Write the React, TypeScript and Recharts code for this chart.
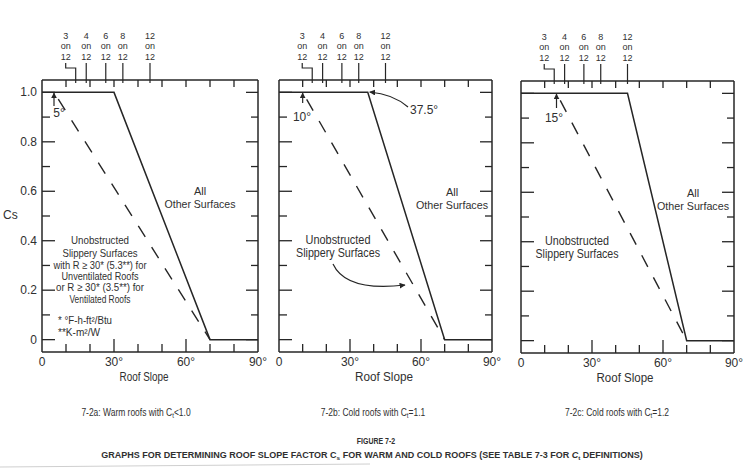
import React from "react";
import { LineChart, Line, XAxis, YAxis } from "recharts";

const SANS = "'Liberation Sans', Arial, Helvetica, sans-serif";
const NARROW = "'Liberation Sans Narrow', 'Liberation Sans', Arial, sans-serif";
const INK = "#262626";
const TXT = "#303030";

// axis ticks
const csTicks = [0, 0.1, 0.2, 0.3, 0.4, 0.5, 0.6, 0.7, 0.8, 0.9, 1.0];
const slopeTicks = [0, 10, 20, 30, 40, 50, 60, 70, 80, 90];
const slopeLabels = [0, 30, 60, 90];
const topMinorTicks = [10, 20, 30, 40, 50, 60, 70, 80];
// roof pitch "x on 12" marks along the top edge (degrees)
const pitchRise = [3, 4, 6, 8, 12];
const pitchAngle = [14.04, 18.43, 26.57, 33.69, 45];
const topTicks = [...topMinorTicks, ...pitchAngle].sort((a, b) => a - b);

// curves: roof slope (deg) -> Cs
const solidCs = [1, 1, 0, 0];
const dashCs = [1, 0];
const warmSolidSlope = [0, 30, 70, 90];
const warmDashSlope = [5, 70];
const cold11SolidSlope = [0, 37.5, 70, 90];
const cold11DashSlope = [10, 70];
const cold12SolidSlope = [0, 45, 70, 90];
const cold12DashSlope = [15, 70];

const rows = (slopes: number[], cs: number[]) => slopes.map((s, i) => ({ slope: s, cs: cs[i] }));

type Geo = { left: number; right: number; top: number; bottom: number };
const geoA: Geo = { left: 42, right: 258, top: 80, bottom: 352 };
const geoB: Geo = { left: 279, right: 492, top: 80, bottom: 352 };
const geoC: Geo = { left: 521, right: 734, top: 81, bottom: 353 };

// pixel helper for the annotation layer
const sx = (g: Geo, deg: number) => g.left + (deg / 90) * (g.right - g.left);

function BottomTick(props: any) {
  const { x, y, payload } = props;
  const v = payload.value;
  const edge = v === 0 || v === 90;
  const len = v % 30 === 0 ? 13 : 8;
  return (
    <g>
      {!edge && <line x1={x} y1={y} x2={x} y2={y - len} stroke={INK} strokeWidth={1.3} />}
      {slopeLabels.includes(v) && (
        <text x={x} y={y + 14} textAnchor="middle" fontSize={12} fontFamily={SANS} fill={TXT}>
          {v === 0 ? "0" : `${v}°`}
        </text>
      )}
    </g>
  );
}

function TopTick(props: any) {
  const { x, y, payload } = props;
  const i = pitchAngle.indexOf(payload.value);
  if (i < 0) return <line x1={x} y1={y} x2={x} y2={y + 7} stroke={INK} strokeWidth={1.3} />;
  const lx = i === 0 ? x - 10 : x;
  const t = { textAnchor: "middle" as const, fontSize: 9, fontFamily: SANS, fill: TXT };
  return (
    <g>
      {i === 0 ? (
        <polyline
          points={`${lx},${y - 17} ${lx},${y - 12} ${x},${y - 12} ${x},${y + 3}`}
          fill="none"
          stroke={INK}
          strokeWidth={1.2}
        />
      ) : (
        <line x1={x} y1={y - 17} x2={x} y2={y + 3} stroke={INK} strokeWidth={1.2} />
      )}
      <text x={lx} y={y - 41} {...t}>{pitchRise[i]}</text>
      <text x={lx} y={y - 31} {...t}>on</text>
      <text x={lx} y={y - 20} {...t}>12</text>
    </g>
  );
}

function LeftTick(props: any) {
  const { x, y, payload, labels } = props;
  const v = payload.value;
  const major = Math.round(v * 10) % 2 === 0;
  return (
    <g>
      <line x1={x} y1={y} x2={x + (major ? 13 : 8)} y2={y} stroke={INK} strokeWidth={1.3} />
      {labels && major && (
        <text x={x - 5} y={y + 4} textAnchor="end" fontSize={12} fontFamily={SANS} fill={TXT}>
          {v === 0 ? "0" : v.toFixed(1)}
        </text>
      )}
    </g>
  );
}

function RightTick(props: any) {
  const { x, y, payload } = props;
  const major = Math.round(payload.value * 10) % 2 === 0;
  return <line x1={x} y1={y} x2={x - (major ? 12 : 7)} y2={y} stroke={INK} strokeWidth={1.3} />;
}

const axisLine = { stroke: INK, strokeWidth: 1.5 };

function Panel({ g, solid, dash, yLabels }: { g: Geo; solid: any[]; dash: any[]; yLabels?: boolean }) {
  const W = g.right - g.left + 59;
  const H = 400;
  return (
    <div style={{ position: "absolute", left: g.left - 42, top: g.top - 80, width: W, height: H }}>
      <LineChart width={W} height={H} margin={{ top: 20, right: 7, bottom: 18, left: 2 }}>
        <XAxis
          xAxisId="b"
          type="number"
          dataKey="slope"
          domain={[0, 90]}
          ticks={slopeTicks}
          interval={0}
          height={30}
          tickSize={0}
          tickMargin={0}
          tickLine={false}
          axisLine={axisLine}
          tick={<BottomTick />}
        />
        <XAxis
          xAxisId="t"
          orientation="top"
          type="number"
          dataKey="slope"
          domain={[0, 90]}
          ticks={topTicks}
          interval={0}
          height={60}
          tickSize={0}
          tickMargin={0}
          tickLine={false}
          axisLine={axisLine}
          tick={<TopTick />}
        />
        <YAxis
          yAxisId="l"
          type="number"
          domain={[-0.05, 1.05]}
          ticks={csTicks}
          interval={0}
          width={40}
          tickSize={0}
          tickMargin={0}
          tickLine={false}
          axisLine={axisLine}
          tick={<LeftTick labels={yLabels} />}
        />
        <YAxis
          yAxisId="r"
          orientation="right"
          type="number"
          domain={[-0.05, 1.05]}
          ticks={csTicks}
          interval={0}
          width={10}
          tickSize={0}
          tickMargin={0}
          tickLine={false}
          axisLine={axisLine}
          tick={<RightTick />}
        />
        {/* carrier so the top (pitch) axis has a series of its own */}
        <Line
          xAxisId="t"
          yAxisId="r"
          data={solid}
          dataKey="cs"
          stroke="none"
          dot={false}
          activeDot={false}
          legendType="none"
          isAnimationActive={false}
        />
        <Line
          xAxisId="b"
          yAxisId="l"
          data={solid}
          dataKey="cs"
          type="linear"
          stroke={INK}
          strokeWidth={1.5}
          dot={false}
          isAnimationActive={false}
        />
        <Line
          xAxisId="b"
          yAxisId="l"
          data={dash}
          dataKey="cs"
          type="linear"
          stroke={INK}
          strokeWidth={1.4}
          strokeDasharray="13 12"
          strokeDashoffset={-8}
          dot={false}
          isAnimationActive={false}
        />
      </LineChart>
    </div>
  );
}

function T({ x, y, children, size = 12, anchor = "middle", w, font = NARROW, weight }: any) {
  return (
    <text
      x={x}
      y={y}
      fontSize={size}
      fontFamily={font}
      fontWeight={weight}
      textAnchor={anchor}
      fill={TXT}
      textLength={w}
      lengthAdjust={w ? "spacingAndGlyphs" : undefined}
    >
      {children}
    </text>
  );
}

// horizontally condensed text (keeps tspans flowing naturally)
function CT({ x, y, children, size = 10, k = 0.72, anchor = "middle", weight }: any) {
  return (
    <g transform={`translate(${x},${y}) scale(${k},1)`}>
      <text x={0} y={0} fontSize={size} fontFamily={SANS} fontWeight={weight} textAnchor={anchor} fill={TXT}>
        {children}
      </text>
    </g>
  );
}

function Annotations() {
  const stroke = { stroke: INK, strokeWidth: 1.2, fill: "none" };
  return (
    <svg
      width={753}
      height={473}
      style={{ position: "absolute", left: 0, top: 0, pointerEvents: "none" }}
    >
      <defs>
        <marker id="ah" viewBox="0 0 10 10" refX="9" refY="5" markerWidth="5" markerHeight="5" orient="auto">
          <path d="M0,0 L10,5 L0,10 z" fill={INK} />
        </marker>
      </defs>

      {/* panel a */}
      <T x={3} y={219} anchor="start" font={SANS}>Cs</T>
      <line x1={sx(geoA, 5)} y1={106} x2={sx(geoA, 5)} y2={93} {...stroke} markerEnd="url(#ah)" />
      <T x={59} y={117} font={SANS}>5°</T>
      <T x={200} y={195} font={SANS} size={11}>All</T>
      <T x={200} y={208} font={SANS} size={11} w={71}>Other Surfaces</T>
      <T x={100} y={244} size={11} w={58}>Unobstructed</T>
      <T x={100} y={257} size={11} w={75}>Slippery Surfaces</T>
      <T x={100} y={269} size={11} w={93}>with R ≥ 30* (5.3**) for</T>
      <T x={100} y={280} size={11} w={77}>Unventilated Roofs</T>
      <T x={100} y={291} size={11} w={88}>or R ≥ 30* (3.5**) for</T>
      <T x={100} y={303} size={11} w={61}>Ventilated Roofs</T>
      <T x={58} y={324} size={10} anchor="start" w={54}>* °F-h-ft²/Btu</T>
      <T x={58} y={336} size={10} anchor="start" w={42}>**K-m²/W</T>
      <T x={144} y={381} size={12} w={49}>Roof Slope</T>

      {/* panel b */}
      <line x1={sx(geoB, 10)} y1={103} x2={sx(geoB, 10)} y2={93} {...stroke} markerEnd="url(#ah)" />
      <T x={302} y={121} font={SANS}>10°</T>
      <path d={`M408,107 Q393,94 ${sx(geoB, 37.5) + 2},92`} {...stroke} markerEnd="url(#ah)" />
      <T x={410} y={114} font={SANS} anchor="start">37.5°</T>
      <T x={452} y={196} font={SANS} size={11}>All</T>
      <T x={452} y={209} font={SANS} size={11} w={72}>Other Surfaces</T>
      <T x={338} y={244} size={12} w={65}>Unobstructed</T>
      <T x={338} y={257} size={12} w={84}>Slippery Surfaces</T>
      <path d="M333,264 Q346,292 405,285" {...stroke} markerEnd="url(#ah)" />
      <T x={384} y={381} size={12} w={58}>Roof Slope</T>

      {/* panel c */}
      <line x1={sx(geoC, 15)} y1={108} x2={sx(geoC, 15)} y2={94} {...stroke} markerEnd="url(#ah)" />
      <T x={554} y={122} font={SANS}>15°</T>
      <T x={693} y={197} font={SANS} size={11}>All</T>
      <T x={693} y={210} font={SANS} size={11} w={72}>Other Surfaces</T>
      <T x={577} y={245} size={12} w={64}>Unobstructed</T>
      <T x={577} y={258} size={12} w={83}>Slippery Surfaces</T>
      <T x={625} y={382} size={12} w={57}>Roof Slope</T>

      {/* captions */}
      <CT x={136} y={416} size={11} k={0.77}>
        7-2a: Warm roofs with C<tspan fontSize={8} dy={1.5}>t</tspan><tspan dy={-1.5}>&lt;1.0</tspan>
      </CT>
      <CT x={373} y={416} size={11} k={0.77}>
        7-2b: Cold roofs with C<tspan fontSize={8} dy={1.5}>t</tspan><tspan dy={-1.5}>=1.1</tspan>
      </CT>
      <CT x={617} y={416} size={11} k={0.77}>
        7-2c: Cold roofs with C<tspan fontSize={8} dy={1.5}>t</tspan><tspan dy={-1.5}>=1.2</tspan>
      </CT>
      <CT x={376} y={444} size={8.5} k={0.82} weight="bold">FIGURE 7-2</CT>
      <CT x={372} y={458} size={8.5} k={1.06} weight="bold">
        GRAPHS FOR DETERMINING ROOF SLOPE FACTOR C<tspan fontSize={6} dy={1.5}>s</tspan>
        <tspan dy={-1.5}> FOR WARM AND COLD ROOFS (SEE TABLE 7-3 FOR </tspan>
        <tspan fontStyle="italic">C</tspan>
        <tspan fontSize={6} dy={1.5}>t</tspan>
        <tspan dy={-1.5}> DEFINITIONS)</tspan>
      </CT>
      <line x1={0} y1={467} x2={370} y2={464} stroke="#cfcfcf" strokeWidth={1} />
    </svg>
  );
}

export default function App() {
  return (
    <div style={{ position: "absolute", left: 0, top: 0, width: 753, height: 473, background: "#fff", overflow: "hidden" }}>
      <Panel g={geoA} solid={rows(warmSolidSlope, solidCs)} dash={rows(warmDashSlope, dashCs)} yLabels />
      <Panel g={geoB} solid={rows(cold11SolidSlope, solidCs)} dash={rows(cold11DashSlope, dashCs)} />
      <Panel g={geoC} solid={rows(cold12SolidSlope, solidCs)} dash={rows(cold12DashSlope, dashCs)} />
      <Annotations />
    </div>
  );
}
